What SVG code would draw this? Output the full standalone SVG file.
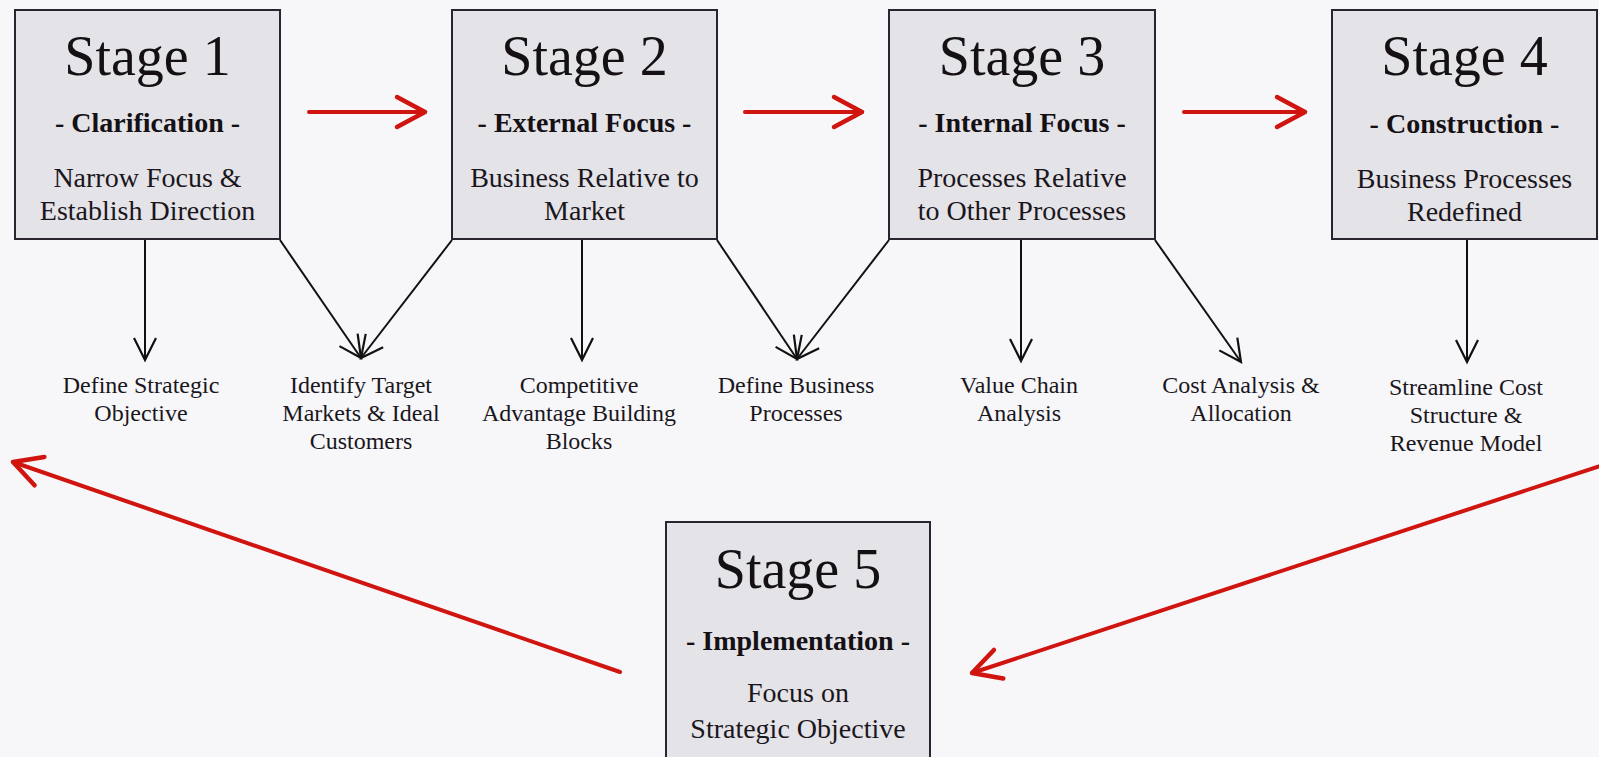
<svg xmlns="http://www.w3.org/2000/svg" width="1599" height="757" viewBox="0 0 1599 757">
<style>
.box{fill:#e4e3e8;stroke:#2a2430;stroke-width:2}
.title{font-family:"Liberation Serif","Times New Roman",serif;font-size:56px;fill:#141014;text-anchor:middle}
.sub{font-family:"Liberation Serif","Times New Roman",serif;font-size:28px;font-weight:bold;fill:#141014;text-anchor:middle}
.desc{font-family:"Liberation Serif","Times New Roman",serif;font-size:28px;fill:#1a161c;text-anchor:middle}
.lbl{font-family:"Liberation Serif","Times New Roman",serif;font-size:24px;fill:#1a161c;text-anchor:middle}
.blk{stroke:#111;stroke-width:2;fill:none;marker-end:url(#bh)}
.red{stroke:#d0140f;stroke-width:4;fill:none;stroke-linecap:round;marker-end:url(#rh)}
</style>
<defs>
<marker id="bh" markerUnits="userSpaceOnUse" viewBox="-30 -20 40 40" refX="0" refY="0" markerWidth="40" markerHeight="40" orient="auto" overflow="visible">
<path d="M-22,-11 L0,0 L-22,11" fill="none" stroke="#111" stroke-width="2.2" stroke-linejoin="miter"/>
</marker>
<marker id="rh" markerUnits="userSpaceOnUse" viewBox="-40 -20 50 40" refX="0" refY="0" markerWidth="50" markerHeight="40" orient="auto" overflow="visible">
<path d="M-28,-15 L0,0 L-28,15" fill="none" stroke="#d0140f" stroke-width="4.5" stroke-linecap="round" stroke-linejoin="round"/>
</marker>
</defs>
<rect x="0" y="0" width="1599" height="757" fill="#f7f7f9"/>

<g id="stage1">
<rect class="box" x="15" y="10" width="265" height="229"/>
<text class="title" x="147.5" y="75">Stage 1</text>
<text class="sub" x="147.5" y="132">- Clarification -</text>
<text class="desc" x="147.5" y="187">Narrow Focus &amp;</text>
<text class="desc" x="147.5" y="220">Establish Direction</text>
</g>
<g id="stage2">
<rect class="box" x="452" y="10" width="265" height="229"/>
<text class="title" x="584.5" y="75">Stage 2</text>
<text class="sub" x="584.5" y="132">- External Focus -</text>
<text class="desc" x="584.5" y="187">Business Relative to</text>
<text class="desc" x="584.5" y="220">Market</text>
</g>
<g id="stage3">
<rect class="box" x="889" y="10" width="266" height="229"/>
<text class="title" x="1022" y="75">Stage 3</text>
<text class="sub" x="1022" y="132">- Internal Focus -</text>
<text class="desc" x="1022" y="187">Processes Relative</text>
<text class="desc" x="1022" y="220">to Other Processes</text>
</g>
<g id="stage4">
<rect class="box" x="1332" y="10" width="265" height="229"/>
<text class="title" x="1464.5" y="75">Stage 4</text>
<text class="sub" x="1464.5" y="133">- Construction -</text>
<text class="desc" x="1464.5" y="188">Business Processes</text>
<text class="desc" x="1464.5" y="221">Redefined</text>
</g>
<g id="stage5">
<rect class="box" x="666" y="522" width="264" height="245"/>
<text class="title" x="798" y="588">Stage 5</text>
<text class="sub" x="798" y="650">- Implementation -</text>
<text class="desc" x="798" y="702">Focus on</text>
<text class="desc" x="798" y="738">Strategic Objective</text>
</g>

<g id="task-define-objective"><text class="lbl" x="141" y="393">Define Strategic</text><text class="lbl" x="141" y="421">Objective</text></g>
<g id="task-target-markets"><text class="lbl" x="361" y="393">Identify Target</text><text class="lbl" x="361" y="421">Markets &amp; Ideal</text><text class="lbl" x="361" y="449">Customers</text></g>
<g id="task-competitive"><text class="lbl" x="579" y="393">Competitive</text><text class="lbl" x="579" y="421">Advantage Building</text><text class="lbl" x="579" y="449">Blocks</text></g>
<g id="task-define-processes"><text class="lbl" x="796" y="393">Define Business</text><text class="lbl" x="796" y="421">Processes</text></g>
<g id="task-value-chain"><text class="lbl" x="1019" y="393">Value Chain</text><text class="lbl" x="1019" y="421">Analysis</text></g>
<g id="task-cost-analysis"><text class="lbl" x="1241" y="393">Cost Analysis &amp;</text><text class="lbl" x="1241" y="421">Allocation</text></g>
<g id="task-streamline"><text class="lbl" x="1466" y="395">Streamline Cost</text><text class="lbl" x="1466" y="423">Structure &amp;</text><text class="lbl" x="1466" y="451">Revenue Model</text></g>

<g id="connectors">
<line class="red" x1="309" y1="112" x2="425" y2="112"/>
<line class="red" x1="745" y1="112" x2="862" y2="112"/>
<line class="red" x1="1184" y1="112" x2="1305" y2="112"/>
<line class="red" x1="620" y1="672" x2="13" y2="462"/>
<line class="red" x1="1612" y1="462" x2="972" y2="673"/>

<line class="blk" x1="145" y1="240" x2="145" y2="360"/>
<line class="blk" x1="280" y1="240" x2="361" y2="358"/>
<line class="blk" x1="452" y1="240" x2="361" y2="358"/>
<line class="blk" x1="582" y1="240" x2="582" y2="360"/>
<line class="blk" x1="717" y1="240" x2="797" y2="359"/>
<line class="blk" x1="889" y1="240" x2="797" y2="359"/>
<line class="blk" x1="1021" y1="240" x2="1021" y2="361"/>
<line class="blk" x1="1155" y1="240" x2="1241" y2="362"/>
<line class="blk" x1="1467" y1="240" x2="1467" y2="362"/>
</g>
</svg>
